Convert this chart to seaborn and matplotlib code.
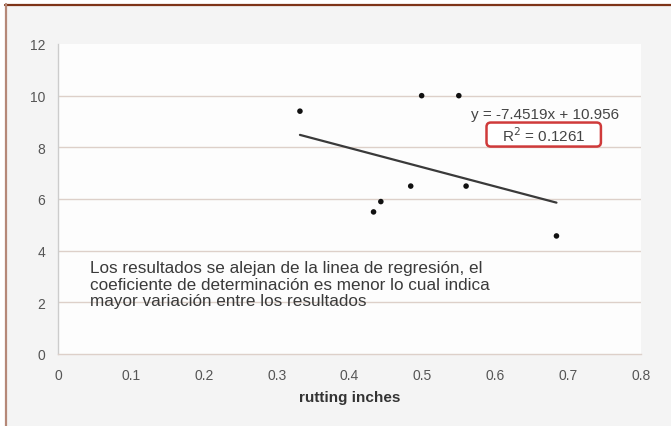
import numpy as np
import pandas as pd
import matplotlib
matplotlib.use("Agg")
import matplotlib.pyplot as plt
from matplotlib.lines import Line2D
from matplotlib.patches import Rectangle, FancyBboxPatch
import seaborn as sns

# Measured samples
rutting_inches = [0.332, 0.499, 0.550, 0.433, 0.443, 0.484, 0.560, 0.684]
values = [9.4, 10.0, 10.0, 5.5, 5.9, 6.5, 6.5, 4.57]

# Linear trend as reported
slope = -7.4519
intercept = 10.956
r_squared = 0.1261

x_ticks = [0, 0.1, 0.2, 0.3, 0.4, 0.5, 0.6, 0.7, 0.8]
x_tick_labels = ["0", "0.1", "0.2", "0.3", "0.4", "0.5", "0.6", "0.7", "0.8"]
y_ticks = [0, 2, 4, 6, 8, 10, 12]

x_label = "rutting inches"
note = ("Los resultados se alejan de la linea de regresión, el\n"
        "coeficiente de determinación es menor lo cual indica\n"
        "mayor variación entre los resultados")

sns.set_theme(style="white")
plt.rcParams["font.family"] = ["Liberation Sans", "DejaVu Sans"]

W, H = 671, 427
fig = plt.figure(figsize=(W / 100, H / 100), dpi=100)
fig.patch.set_facecolor("white")

# panel background and frame lines
fig.add_artist(Rectangle((5.5 / W, 0), 1, 1 - 5.5 / H, transform=fig.transFigure,
                         facecolor="#f4f4f4", edgecolor="none", zorder=-10))
fig.add_artist(Line2D([5 / W, 1], [1 - 5.5 / H, 1 - 5.5 / H], transform=fig.transFigure,
                      color="#7e3418", lw=1.6))
fig.add_artist(Line2D([5.5 / W, 5.5 / W], [0, 1 - 5 / H], transform=fig.transFigure,
                      color="#b58878", lw=1.6))

ax = fig.add_axes([58 / W, 1 - 355 / H, (641 - 58) / W, (355 - 45) / H])
ax.set_facecolor("#fdfdfd")

df = pd.DataFrame({"x": rutting_inches, "y": values})
sns.scatterplot(data=df, x="x", y="y", ax=ax, color="#111111", s=16,
                edgecolor="none", zorder=3)

x_min, x_max = min(rutting_inches), max(rutting_inches)
trend = pd.DataFrame({"x": [x_min, x_max]})
trend["y"] = slope * trend["x"] + intercept
sns.lineplot(data=trend, x="x", y="y", ax=ax, color="#3a3a3a", lw=1.6, zorder=2)

ax.set_xlim(0, 0.8)
ax.set_ylim(0, 12)
ax.set_xticks(x_ticks)
ax.set_xticklabels(x_tick_labels)
ax.set_yticks(y_ticks)

grid_col = "#ddd0c9"
for yv in y_ticks[1:-1]:
    ax.axhline(yv, color=grid_col, lw=1.0, zorder=0)

for s in ["top", "right"]:
    ax.spines[s].set_visible(False)
ax.spines["left"].set_color("#cccccc")
ax.spines["bottom"].set_color(grid_col)
ax.spines["left"].set_linewidth(1.0)
ax.spines["bottom"].set_linewidth(1.0)

ax.tick_params(axis="both", which="both", length=4, width=0.8, color="#cccccc",
               labelsize=10, labelcolor="#555555", direction="out")
ax.tick_params(axis="x", pad=6)
ax.tick_params(axis="y", pad=5)

ax.set_xlabel(x_label, fontsize=11, fontweight="bold", color="#333333", labelpad=6)
ax.set_ylabel("")

# trend equation and R² box
ax.text(0.668, 9.29, f"y = {slope:.4f}x + {intercept:.3f}", fontsize=11,
        color="#444444", ha="center", va="center")
ax.add_patch(FancyBboxPatch((0.588, 8.03), 0.157, 0.93,
                            boxstyle="round,pad=0,rounding_size=0.006",
                            mutation_aspect=28,
                            facecolor="white", edgecolor="#cf3a3a", lw=1.8, zorder=4))
ax.text(0.667, 8.50, f"R$^2$ = {r_squared:.4f}", fontsize=11, color="#444444",
        ha="center", va="center", zorder=5)

ax.text(0.044, 3.62, note, fontsize=12.3, color="#3a3a3a", ha="left", va="top",
        linespacing=1.12)

fig.savefig("out.png", dpi=100, facecolor=fig.get_facecolor())
